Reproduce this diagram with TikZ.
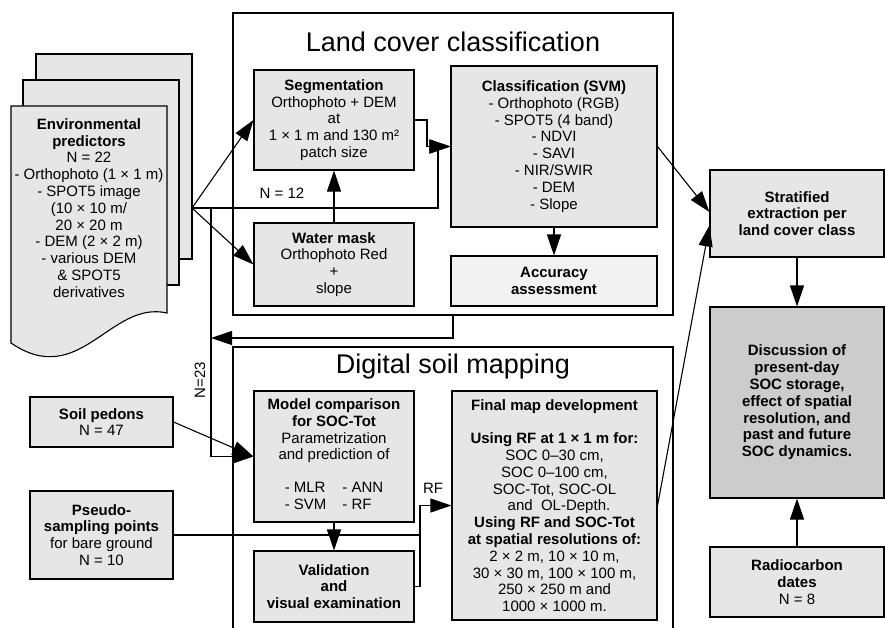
\documentclass[tikz,border=0pt]{standalone}
\usepackage{fontspec}
\setmainfont{Liberation Sans}
\usetikzlibrary{arrows.meta,calc}
\definecolor{boxgray}{HTML}{E6E6E6}
\definecolor{accgray}{HTML}{F2F2F2}
\definecolor{discgray}{HTML}{CCCCCC}
\newcommand\boxfont{\fontsize{15}{16.8}\selectfont}
\newcommand\titlefont{\fontsize{27}{30}\selectfont}
\begin{document}
\begin{tikzpicture}[x=1pt,y=-1pt,
  box/.style={draw, line width=1.1pt, fill=boxgray, align=center, inner sep=0pt, font=\boxfont},
  cont/.style={draw, line width=1.1pt, fill=white, inner sep=0pt},
  docst/.style={draw, line width=1.1pt, fill=boxgray},
  ln/.style={line width=1.1pt},
  arr/.style={line width=1.1pt, -{Triangle[length=21pt,width=14pt]}},
  lbl/.style={font=\boxfont, inner sep=0pt}
]
\useasboundingbox (0,0) rectangle (885,627);

% containers
\node[cont, minimum width=440pt, minimum height=302pt] (lcc) at (453,164) {};
\node[font=\titlefont, inner sep=0pt] (lcct) at (453,42) {Land cover classification};
\draw[ln, fill=white] (233,629) -- (233,347) -- (673,347) -- (673,629);
\node[font=\titlefont, inner sep=0pt] (dsmt) at (453,367) {Digital soil mapping};

% document stack
\draw[docst] (36,54) rectangle (192,259);
\draw[docst] (23,80) rectangle (179,285);
\draw[docst] (11,106) -- (167,106) -- (167,313) .. controls (110,300) and (80,390) .. (11,343) -- cycle;
\node[lbl, align=center] (env) at (89,208) {\textbf{Environmental}\\\textbf{predictors}\\N = 22\\- Orthophoto (1 × 1 m)\\- SPOT5 image\\(10 × 10 m/\\20 × 20 m\\- DEM (2 × 2 m)\\- various DEM\\\& SPOT5\\derivatives};
\coordinate (ep) at (192,208);

% land cover boxes
\node[box, minimum width=160pt, minimum height=100pt] (seg) at (334,120) {\textbf{Segmentation}\\Orthophoto + DEM\\at\\1 × 1 m and 130 m²\\patch size};
\node[box, minimum width=160pt, minimum height=83pt] (water) at (334,264.5) {\textbf{Water mask}\\Orthophoto Red\\+\\slope};
\node[box, minimum width=206pt, minimum height=161pt] (cls) at (554,146.5) {\textbf{Classification (SVM)}\\- Orthophoto (RGB)\\- SPOT5 (4 band)\\- NDVI\\- SAVI\\- NIR/SWIR\\- DEM\\- Slope};
\node[box, fill=accgray, minimum width=206pt, minimum height=50pt] (acc) at (554,281) {\textbf{Accuracy}\\\textbf{assessment}};

% right column
\node[box, minimum width=174pt, minimum height=87pt] (strat) at (797,213.5) {\textbf{Stratified}\\\textbf{extraction per}\\\textbf{land cover class}};
\node[box, fill=discgray, minimum width=174pt, minimum height=191pt] (disc) at (797,402.5) {\textbf{Discussion of}\\\textbf{present-day}\\\textbf{SOC storage,}\\\textbf{effect of spatial}\\\textbf{resolution, and}\\\textbf{past and future}\\\textbf{SOC dynamics.}};
\node[box, minimum width=174pt, minimum height=70pt] (radio) at (797,582) {\textbf{Radiocarbon}\\\textbf{dates}\\N = 8};

% left inputs
\node[box, minimum width=143pt, minimum height=50pt] (soil) at (101.5,422) {\textbf{Soil pedons}\\N = 47};
\node[box, minimum width=143pt, minimum height=88pt] (pseudo) at (101.5,535) {\textbf{Pseudo-}\\\textbf{sampling points}\\for bare ground\\N = 10};

% DSM boxes
\node[box, minimum width=160pt, minimum height=131pt] (model) at (334,456.5) {\textbf{Model comparison}\\\textbf{for SOC-Tot}\\Parametrization\\and prediction of\\[16.8pt]\begin{tabular}{@{}l@{\hspace{16pt}}l@{}}- MLR & - ANN\\- SVM & - RF\end{tabular}};
\node[box, minimum width=160pt, minimum height=71pt] (valid) at (334,586.5) {\textbf{Validation}\\\textbf{and}\\\textbf{visual examination}};
\node[box, minimum width=205pt, minimum height=229pt] (final) at (554.5,505.5) {\textbf{Final map development}\\[16.8pt]\textbf{Using RF at 1 × 1 m for:}\\SOC 0–30 cm,\\SOC 0–100 cm,\\SOC-Tot, SOC-OL\\\hspace{0.6em}and\ \ OL-Depth.\\\textbf{Using RF and SOC-Tot}\\\textbf{at spatial resolutions of:}\\2 × 2 m, 10 × 10 m,\\30 × 30 m, 100 × 100 m,\\250 × 250 m and\\1000 × 1000 m.};

% connectors
\draw[arr] (ep) -- (seg.west);
\draw[arr] (ep) -- (water.west);
\draw[arr] (ep) -| (438,146.5) -- (cls.west);
\draw[arr] (seg.east) -- (427,120) -- (427,146.5) -- (cls.west);
\node[lbl] (n12) at (282,193) {N = 12};
\draw[arr] (water.north) -- (seg.south);
\draw[arr] (cls.south) -- (acc.north);
\draw[arr] (cls.east) -- ($(strat.west)+(0,-1.5)$);
\draw[arr] (final.east) -- ($(strat.west)+(0,12)$);
\draw[arr] (strat.south) -- (disc.north);
\draw[arr] (radio.north) -- (disc.south);
\draw[arr] (lcc.south) |- (211,338);
\draw[arr] (211,208) |- (model.west);
\node[lbl, rotate=90] (n23) at (200,380) {N=23};
\draw[arr] (soil.east) -- (model.west);
\draw[arr] (model.south) -- (valid.north);
\draw[arr] (pseudo.east) -| (420,505.5) -- (final.west);
\draw[ln] (valid.east) -| (420,505.5);
\node[lbl] (rf) at (433,488) {RF};
\end{tikzpicture}
\end{document}
